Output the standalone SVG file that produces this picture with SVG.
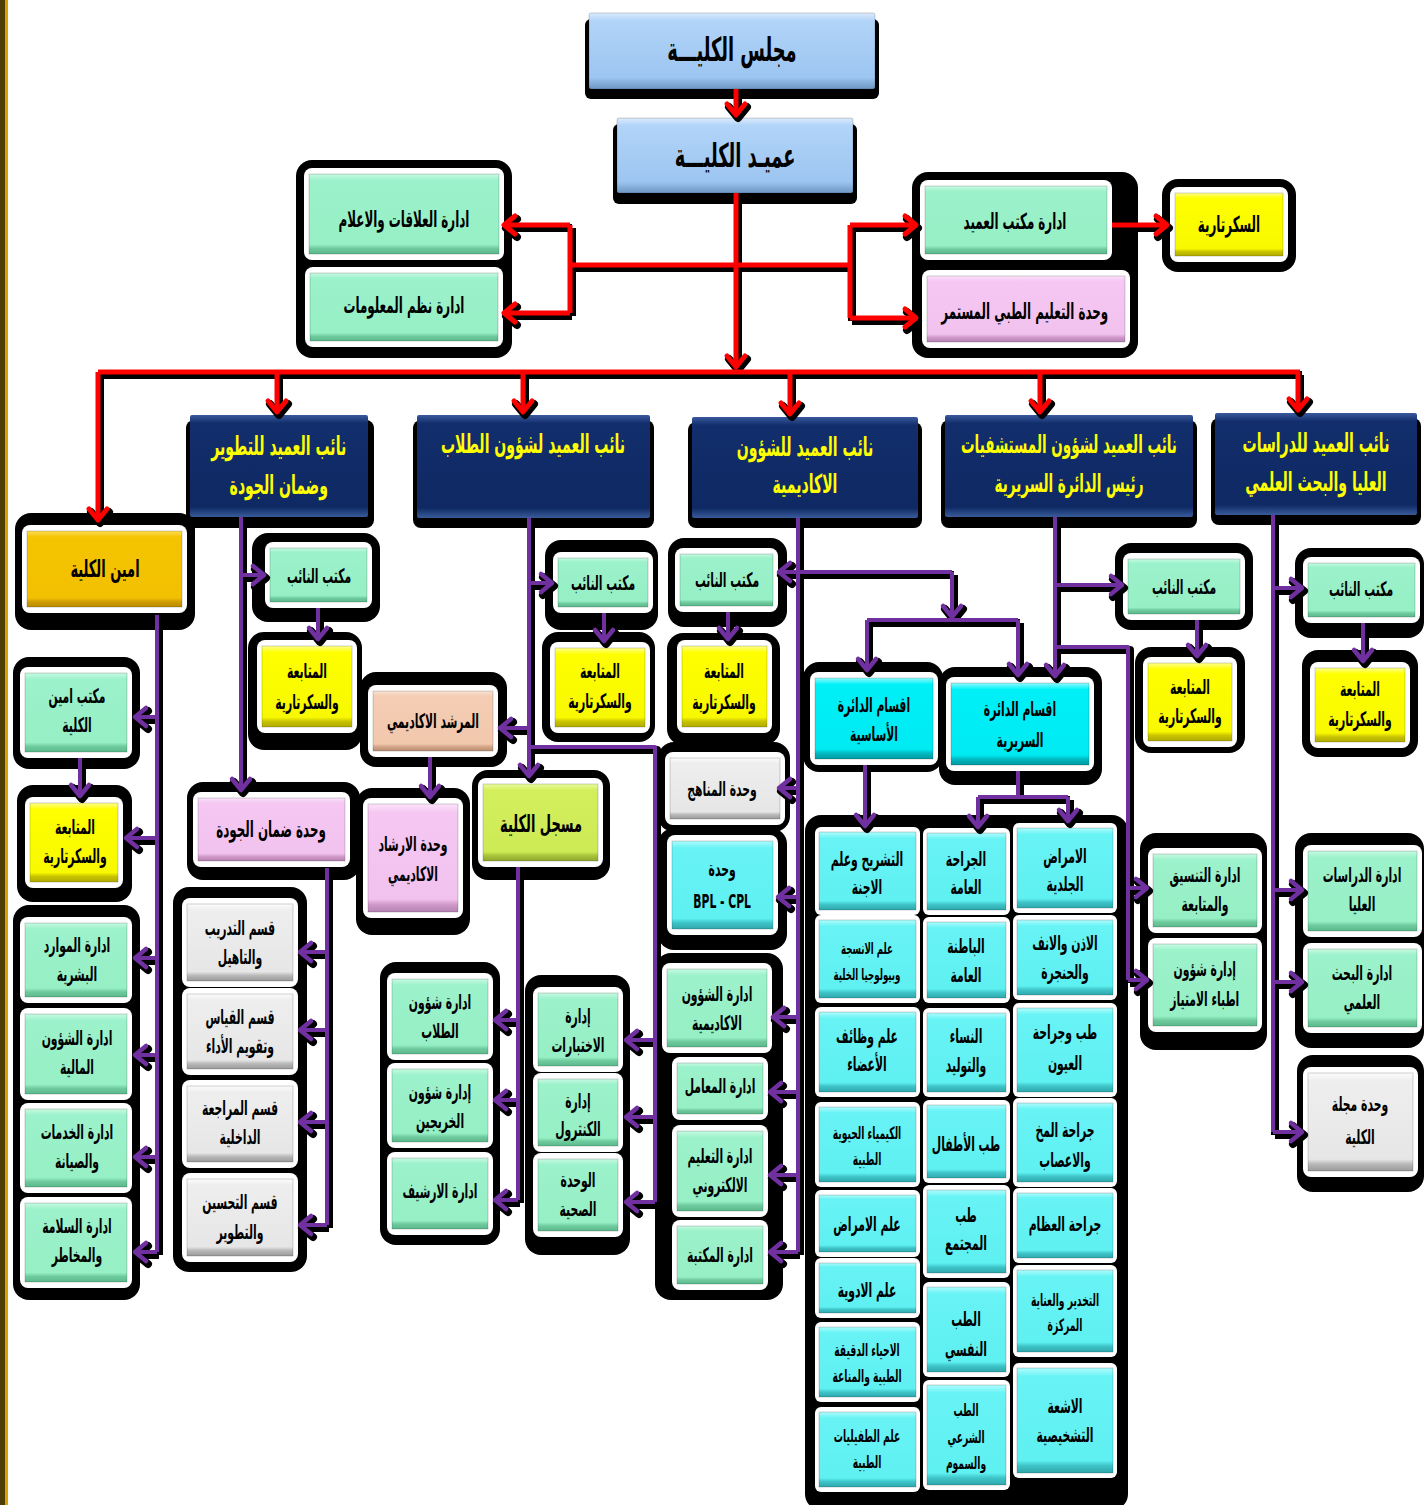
<svg xmlns="http://www.w3.org/2000/svg" xmlns:xlink="http://www.w3.org/1999/xlink" width="1424" height="1505" viewBox="0 0 1424 1505">
<style>
.sh{fill:#000}
.f{fill:#fff}
.i{stroke:rgba(0,0,0,.18);stroke-width:1}
text{font-family:'DejaVu Sans Condensed','DejaVu Sans',sans-serif;font-weight:bold;text-anchor:middle;fill:#000;transform-box:fill-box;transform-origin:center;transform:scaleX(.6)}
.t{font-size:20px}
.tm{font-size:22px}
.ts{font-size:16px}
.tx{font-size:17px}
.tl{font-size:33px}
.tn{font-size:26px;fill:#FFFF00}
.tb{font-size:24px}
</style>
<defs>
<linearGradient id="gBlue" x1="0" y1="0" x2="0" y2="1"><stop offset="0" stop-color="#DCEBFC"/><stop offset=".1" stop-color="#B2D4F8"/><stop offset=".85" stop-color="#9CC5F1"/><stop offset=".93" stop-color="#82ACD8"/><stop offset="1" stop-color="#6E98C4"/></linearGradient>
<linearGradient id="gNavy" x1="0" y1="0" x2="0" y2="1"><stop offset="0" stop-color="#3A5A9E"/><stop offset=".08" stop-color="#122E6C"/><stop offset=".9" stop-color="#0E2963"/><stop offset=".95" stop-color="#23427F"/><stop offset="1" stop-color="#3A5A9A"/></linearGradient>
<linearGradient id="gGreen" x1="0" y1="0" x2="0" y2="1"><stop offset="0" stop-color="#C8FAE3"/><stop offset=".08" stop-color="#9CF2CB"/><stop offset=".88" stop-color="#96EFC5"/><stop offset=".93" stop-color="#6FCB9E"/><stop offset="1" stop-color="#5AB88B"/></linearGradient>
<linearGradient id="gYellow" x1="0" y1="0" x2="0" y2="1"><stop offset="0" stop-color="#FFFF90"/><stop offset=".08" stop-color="#FFFF00"/><stop offset=".88" stop-color="#F8F800"/><stop offset=".93" stop-color="#C9C400"/><stop offset="1" stop-color="#B0AA00"/></linearGradient>
<linearGradient id="gCyan" x1="0" y1="0" x2="0" y2="1"><stop offset="0" stop-color="#B0FCFC"/><stop offset=".08" stop-color="#68F3F5"/><stop offset=".88" stop-color="#5FF0F2"/><stop offset=".93" stop-color="#3EC4C8"/><stop offset="1" stop-color="#2FA8AC"/></linearGradient>
<linearGradient id="gCyan2" x1="0" y1="0" x2="0" y2="1"><stop offset="0" stop-color="#90FBFF"/><stop offset=".08" stop-color="#00F0F8"/><stop offset=".88" stop-color="#00EAF2"/><stop offset=".93" stop-color="#00B8C0"/><stop offset="1" stop-color="#009AA0"/></linearGradient>
<linearGradient id="gGray" x1="0" y1="0" x2="0" y2="1"><stop offset="0" stop-color="#FCFCFC"/><stop offset=".08" stop-color="#EEEEEE"/><stop offset=".88" stop-color="#E6E6E6"/><stop offset=".93" stop-color="#B8B8B8"/><stop offset="1" stop-color="#9A9A9A"/></linearGradient>
<linearGradient id="gPink" x1="0" y1="0" x2="0" y2="1"><stop offset="0" stop-color="#FCE3FA"/><stop offset=".08" stop-color="#F5C7F2"/><stop offset=".88" stop-color="#F2C2EE"/><stop offset=".93" stop-color="#D09ACB"/><stop offset="1" stop-color="#B582B0"/></linearGradient>
<linearGradient id="gPeach" x1="0" y1="0" x2="0" y2="1"><stop offset="0" stop-color="#FBE5D6"/><stop offset=".08" stop-color="#F4CDB4"/><stop offset=".88" stop-color="#F2C8AD"/><stop offset=".93" stop-color="#D2A587"/><stop offset="1" stop-color="#B98E72"/></linearGradient>
<linearGradient id="gGold" x1="0" y1="0" x2="0" y2="1"><stop offset="0" stop-color="#FFDD55"/><stop offset=".08" stop-color="#F5C400"/><stop offset=".88" stop-color="#F2C000"/><stop offset=".93" stop-color="#D09E00"/><stop offset="1" stop-color="#B98A00"/></linearGradient>
<linearGradient id="gLime" x1="0" y1="0" x2="0" y2="1"><stop offset="0" stop-color="#EAFBA0"/><stop offset=".08" stop-color="#D4EF5C"/><stop offset=".88" stop-color="#CDEA55"/><stop offset=".93" stop-color="#A8C43A"/><stop offset="1" stop-color="#90A82E"/></linearGradient>
<marker id="mr" markerUnits="userSpaceOnUse" markerWidth="30" markerHeight="30" refX="13" refY="12" orient="auto" overflow="visible"><path d="M2,3 L13,12 L2,21" fill="none" stroke="#FF0000" stroke-width="5" stroke-linecap="round" stroke-linejoin="round"/></marker>
<marker id="mp" markerUnits="userSpaceOnUse" markerWidth="30" markerHeight="30" refX="13" refY="12" orient="auto" overflow="visible"><path d="M2,3 L13,12 L2,21" fill="none" stroke="#7030A0" stroke-width="4.5" stroke-linecap="round" stroke-linejoin="round"/></marker>
<marker id="mk" markerUnits="userSpaceOnUse" markerWidth="30" markerHeight="30" refX="13" refY="12" orient="auto" overflow="visible"><path d="M2,3 L13,12 L2,21" fill="none" stroke="#000" stroke-width="8" stroke-linecap="round" stroke-linejoin="round"/></marker>
</defs>

<rect x="0" y="0" width="1424" height="1505" fill="#fff"/>
<rect x="0" y="0" width="5" height="1505" fill="#4F3E08"/>
<rect x="5" y="0" width="3" height="1505" fill="#D9A300"/>

<g id="shadows">
<rect class="sh" x="585" y="19" width="294" height="80" rx="6"/>
<rect class="sh" x="613" y="124" width="244" height="80" rx="6"/>
<rect class="sh" x="296" y="160" width="216" height="198" rx="16"/>
<rect class="sh" x="912" y="172" width="226" height="186" rx="16"/>
<rect class="sh" x="1162" y="179" width="134" height="93" rx="16"/>
<rect class="sh" x="186" y="420" width="188" height="108" rx="8"/>
<rect class="sh" x="413" y="420" width="241" height="108" rx="8"/>
<rect class="sh" x="688" y="422" width="234" height="106" rx="8"/>
<rect class="sh" x="941" y="420" width="256" height="108" rx="8"/>
<rect class="sh" x="1211" y="418" width="210" height="107" rx="8"/>
<rect class="sh" x="15" y="513" width="180" height="117" rx="16"/>
<rect class="sh" x="13" y="657" width="127" height="112" rx="16"/>
<rect class="sh" x="17" y="785" width="115" height="117" rx="16"/>
<rect class="sh" x="13" y="905" width="127" height="395" rx="16"/>
<rect class="sh" x="252" y="533" width="128" height="89" rx="16"/>
<rect class="sh" x="248" y="632" width="114" height="118" rx="16"/>
<rect class="sh" x="187" y="782" width="173" height="98" rx="16"/>
<rect class="sh" x="173" y="887" width="134" height="385" rx="16"/>
<rect class="sh" x="545" y="540" width="113" height="90" rx="16"/>
<rect class="sh" x="542" y="632" width="113" height="110" rx="16"/>
<rect class="sh" x="360" y="672" width="147" height="95" rx="16"/>
<rect class="sh" x="356" y="788" width="114" height="147" rx="16"/>
<rect class="sh" x="472" y="770" width="138" height="110" rx="16"/>
<rect class="sh" x="380" y="962" width="120" height="283" rx="16"/>
<rect class="sh" x="525" y="975" width="105" height="280" rx="16"/>
<rect class="sh" x="668" y="538" width="119" height="89" rx="16"/>
<rect class="sh" x="667" y="633" width="113" height="112" rx="16"/>
<rect class="sh" x="658" y="742" width="132" height="90" rx="16"/>
<rect class="sh" x="658" y="828" width="129" height="122" rx="16"/>
<rect class="sh" x="655" y="953" width="128" height="347" rx="16"/>
<rect class="sh" x="803" y="662" width="140" height="110" rx="16"/>
<rect class="sh" x="939" y="667" width="163" height="118" rx="16"/>
<rect class="sh" x="1115" y="543" width="138" height="87" rx="16"/>
<rect class="sh" x="1135" y="647" width="110" height="106" rx="16"/>
<rect class="sh" x="1140" y="833" width="127" height="217" rx="16"/>
<rect class="sh" x="1295" y="548" width="129" height="90" rx="16"/>
<rect class="sh" x="1302" y="650" width="116" height="107" rx="16"/>
<rect class="sh" x="1295" y="833" width="129" height="215" rx="16"/>
<rect class="sh" x="1297" y="1055" width="127" height="137" rx="16"/>
<rect class="sh" x="805" y="815" width="323" height="695" rx="16"/>
</g>

<g id="n-council"><rect x="589" y="13" width="286" height="76" rx="2" fill="url(#gBlue)" class="i"/><text class="tl" x="732" y="61">مجلس الكليـــة</text></g>
<g id="n-dean"><rect x="617" y="118" width="236" height="75" rx="2" fill="url(#gBlue)" class="i"/><text class="tl" x="735" y="167">عميـد الكليـــة</text></g>

<g id="n-relations"><rect class="f" x="304" y="168" width="200" height="92" rx="8"/><rect class="i" x="309" y="174" width="190" height="80" fill="url(#gGreen)"/><text class="tm" x="404" y="227">ادارة العلاقات والاعلام</text></g>
<g id="n-infosys"><rect class="f" x="305" y="267" width="198" height="80" rx="8"/><rect class="i" x="310" y="273" width="188" height="68" fill="url(#gGreen)"/><text class="tm" x="404" y="313">ادارة نظم المعلومات</text></g>
<g id="n-deanoffice"><rect class="f" x="920" y="180" width="192" height="80" rx="8"/><rect class="i" x="925" y="186" width="182" height="68" fill="url(#gGreen)"/><text class="tm" x="1015" y="229">ادارة مكتب العميد</text></g>
<g id="n-cme"><rect class="f" x="922" y="270" width="208" height="78" rx="8"/><rect class="i" x="927" y="276" width="198" height="66" fill="url(#gPink)"/><text class="tm" x="1025" y="319">وحدة التعليم  الطبي المستمر</text></g>
<g id="n-secretary"><rect class="f" x="1170" y="187" width="118" height="75" rx="8"/><rect class="i" x="1175" y="193" width="108" height="63" fill="url(#gYellow)"/><text class="tm" x="1229" y="232">السكرتارية</text></g>

<g id="n-vp-dev"><rect x="190" y="415" width="178" height="102" rx="2" fill="url(#gNavy)"/><text class="tn" x="279"><tspan x="279" y="455">نائب العميد للتطوير</tspan><tspan x="279" y="494">وضمان الجودة</tspan></text></g>
<g id="n-vp-students"><rect x="417" y="415" width="233" height="103" rx="2" fill="url(#gNavy)"/><text class="tn" x="533" y="453">نائب العميد لشؤون الطلاب</text></g>
<g id="n-vp-academic"><rect x="692" y="417" width="226" height="101" rx="2" fill="url(#gNavy)"/><text class="tn" x="805"><tspan x="805" y="456">نائب العميد للشؤون</tspan><tspan x="805" y="493">الاكاديمية</tspan></text></g>
<g id="n-vp-hospitals"><rect x="945" y="415" width="248" height="102" rx="2" fill="url(#gNavy)"/><text class="tn" x="1069" style="font-size:25px"><tspan x="1069" y="453">نائب العميد لشؤون المستشفيات</tspan><tspan x="1069" y="492">رئيس الدائرة السريرية</tspan></text></g>
<g id="n-vp-postgrad"><rect x="1215" y="413" width="202" height="102" rx="2" fill="url(#gNavy)"/><text class="tn" x="1316"><tspan x="1316" y="452">نائب العميد للدراسات</tspan><tspan x="1316" y="491">العليا  والبحث العلمي</tspan></text></g>

<g id="n-amin"><rect class="f" x="22" y="525" width="165" height="88" rx="8"/><rect class="i" x="27" y="531" width="155" height="76" fill="url(#gGold)"/><text class="tb" x="105" y="577">امين الكلية</text></g>
<g id="n-amin-office"><rect class="f" x="20" y="667" width="112" height="91" rx="8"/><rect class="i" x="25" y="673" width="102" height="79" fill="url(#gGreen)"/><text class="t" x="77"><tspan x="77" y="703">مكتب امين</tspan><tspan x="77" y="732">الكلية</tspan></text></g>
<g id="n-amin-follow"><rect class="f" x="25" y="797" width="98" height="91" rx="8"/><rect class="i" x="30" y="803" width="88" height="79" fill="url(#gYellow)"/><text class="t" x="75"><tspan x="75" y="834">المتابعة</tspan><tspan x="75" y="863">والسكرتارية</tspan></text></g>
<g id="n-hr"><rect class="f" x="20" y="917" width="112" height="86" rx="8"/><rect class="i" x="25" y="923" width="102" height="74" fill="url(#gGreen)"/><text class="t" x="77"><tspan x="77" y="952">ادارة الموارد</tspan><tspan x="77" y="981">البشرية</tspan></text></g>
<g id="n-finance"><rect class="f" x="20" y="1008" width="112" height="92" rx="8"/><rect class="i" x="25" y="1014" width="102" height="80" fill="url(#gGreen)"/><text class="t" x="77"><tspan x="77" y="1045">ادارة الشؤون</tspan><tspan x="77" y="1074">المالية</tspan></text></g>
<g id="n-services"><rect class="f" x="20" y="1103" width="112" height="90" rx="8"/><rect class="i" x="25" y="1109" width="102" height="78" fill="url(#gGreen)"/><text class="t" x="77"><tspan x="77" y="1139">ادارة الخدمات</tspan><tspan x="77" y="1168">والصيانة</tspan></text></g>
<g id="n-safety"><rect class="f" x="20" y="1197" width="112" height="91" rx="8"/><rect class="i" x="25" y="1203" width="102" height="79" fill="url(#gGreen)"/><text class="t" x="77"><tspan x="77" y="1233">ادارة السلامة</tspan><tspan x="77" y="1262">والمخاطر</tspan></text></g>

<g id="n-dev-office"><rect class="f" x="265" y="542" width="107" height="66" rx="8"/><rect class="i" x="270" y="548" width="97" height="54" fill="url(#gGreen)"/><text class="t" x="319" y="583">مكتب النائب</text></g>
<g id="n-dev-follow"><rect class="f" x="257" y="640" width="100" height="93" rx="8"/><rect class="i" x="262" y="646" width="90" height="81" fill="url(#gYellow)"/><text class="t" x="307"><tspan x="307" y="678">المتابعة</tspan><tspan x="307" y="709">والسكرتارية</tspan></text></g>
<g id="n-quality"><rect class="f" x="193" y="792" width="157" height="75" rx="8"/><rect class="i" x="198" y="798" width="147" height="63" fill="url(#gPink)"/><text class="tm" x="271" y="837">وحدة ضمان الجودة</text></g>
<g id="n-training"><rect class="f" x="182" y="898" width="116" height="89" rx="8"/><rect class="i" x="187" y="904" width="106" height="77" fill="url(#gGray)"/><text class="t" x="240"><tspan x="240" y="935">قسم التدريب</tspan><tspan x="240" y="964">والتاهيل</tspan></text></g>
<g id="n-measure"><rect class="f" x="182" y="988" width="116" height="87" rx="8"/><rect class="i" x="187" y="994" width="106" height="75" fill="url(#gGray)"/><text class="t" x="240"><tspan x="240" y="1024">قسم القياس</tspan><tspan x="240" y="1053">وتقويم الأداء</tspan></text></g>
<g id="n-audit"><rect class="f" x="182" y="1080" width="116" height="88" rx="8"/><rect class="i" x="187" y="1086" width="106" height="76" fill="url(#gGray)"/><text class="t" x="240"><tspan x="240" y="1115">قسم المراجعة</tspan><tspan x="240" y="1144">الداخلية</tspan></text></g>
<g id="n-improve"><rect class="f" x="182" y="1173" width="116" height="89" rx="8"/><rect class="i" x="187" y="1179" width="106" height="77" fill="url(#gGray)"/><text class="t" x="240"><tspan x="240" y="1209">قسم التحسين</tspan><tspan x="240" y="1239">والتطوير</tspan></text></g>

<g id="n-stu-office"><rect class="f" x="553" y="552" width="100" height="61" rx="8"/><rect class="i" x="558" y="558" width="90" height="49" fill="url(#gGreen)"/><text class="t" x="603" y="590">مكتب النائب</text></g>
<g id="n-stu-follow"><rect class="f" x="550" y="642" width="100" height="91" rx="8"/><rect class="i" x="555" y="648" width="90" height="79" fill="url(#gYellow)"/><text class="t" x="600"><tspan x="600" y="678">المتابعة</tspan><tspan x="600" y="708">والسكرتارية</tspan></text></g>
<g id="n-advisor"><rect class="f" x="368" y="685" width="130" height="72" rx="8"/><rect class="i" x="373" y="691" width="120" height="60" fill="url(#gPeach)"/><text class="t" x="433" y="728">المرشد الاكاديمي</text></g>
<g id="n-advising-unit"><rect class="f" x="363" y="798" width="100" height="120" rx="8"/><rect class="i" x="368" y="804" width="90" height="108" fill="url(#gPink)"/><text class="t" x="413"><tspan x="413" y="851">وحدة الارشاد</tspan><tspan x="413" y="881">الاكاديمي</tspan></text></g>
<g id="n-registrar"><rect class="f" x="478" y="778" width="125" height="89" rx="8"/><rect class="i" x="483" y="784" width="115" height="77" fill="url(#gLime)"/><text class="tb" x="541" y="832">مسجل الكلية</text></g>
<g id="n-stu-affairs"><rect class="f" x="387" y="973" width="106" height="87" rx="8"/><rect class="i" x="392" y="979" width="96" height="75" fill="url(#gGreen)"/><text class="t" x="440"><tspan x="440" y="1009">ادارة شؤون</tspan><tspan x="440" y="1038">الطلاب</tspan></text></g>
<g id="n-alumni"><rect class="f" x="387" y="1063" width="106" height="85" rx="8"/><rect class="i" x="392" y="1069" width="96" height="73" fill="url(#gGreen)"/><text class="t" x="440"><tspan x="440" y="1099">إدارة شؤون</tspan><tspan x="440" y="1128">الخريجين</tspan></text></g>
<g id="n-archive"><rect class="f" x="387" y="1152" width="106" height="83" rx="8"/><rect class="i" x="392" y="1158" width="96" height="71" fill="url(#gGreen)"/><text class="t" x="440" y="1198">ادارة الارشيف</text></g>
<g id="n-exams"><rect class="f" x="533" y="987" width="90" height="85" rx="8"/><rect class="i" x="538" y="993" width="80" height="73" fill="url(#gGreen)"/><text class="t" x="578"><tspan x="578" y="1023">إدارة</tspan><tspan x="578" y="1052">الاختبارات</tspan></text></g>
<g id="n-control"><rect class="f" x="533" y="1073" width="90" height="79" rx="8"/><rect class="i" x="538" y="1079" width="80" height="67" fill="url(#gGreen)"/><text class="t" x="578"><tspan x="578" y="1108">إدارة</tspan><tspan x="578" y="1136">الكنترول</tspan></text></g>
<g id="n-health"><rect class="f" x="533" y="1153" width="90" height="84" rx="8"/><rect class="i" x="538" y="1159" width="80" height="72" fill="url(#gGreen)"/><text class="t" x="578"><tspan x="578" y="1187">الوحدة</tspan><tspan x="578" y="1216">الصحية</tspan></text></g>

<g id="n-acad-office"><rect class="f" x="675" y="548" width="103" height="64" rx="8"/><rect class="i" x="680" y="554" width="93" height="52" fill="url(#gGreen)"/><text class="t" x="727" y="587">مكتب النائب</text></g>
<g id="n-acad-follow"><rect class="f" x="677" y="640" width="95" height="93" rx="8"/><rect class="i" x="682" y="646" width="85" height="81" fill="url(#gYellow)"/><text class="t" x="724"><tspan x="724" y="678">المتابعة</tspan><tspan x="724" y="709">والسكرتارية</tspan></text></g>
<g id="n-curricula"><rect class="f" x="665" y="752" width="120" height="73" rx="8"/><rect class="i" x="670" y="758" width="110" height="61" fill="url(#gGray)"/><text class="t" x="722" y="796">وحدة المناهج</text></g>
<g id="n-bpl"><rect class="f" x="667" y="835" width="111" height="100" rx="8"/><rect class="i" x="672" y="841" width="101" height="88" fill="url(#gCyan)"/><text class="t" x="722"><tspan x="722" y="876">وحدة</tspan><tspan x="722" y="908">BPL - CPL</tspan></text></g>
<g id="n-acad-affairs"><rect class="f" x="662" y="963" width="110" height="90" rx="8"/><rect class="i" x="667" y="969" width="100" height="78" fill="url(#gGreen)"/><text class="t" x="717"><tspan x="717" y="1001">ادارة الشؤون</tspan><tspan x="717" y="1030">الاكاديمية</tspan></text></g>
<g id="n-labs"><rect class="f" x="672" y="1057" width="96" height="63" rx="8"/><rect class="i" x="677" y="1063" width="86" height="51" fill="url(#gGreen)"/><text class="t" x="720" y="1093">ادارة المعامل</text></g>
<g id="n-elearning"><rect class="f" x="672" y="1125" width="96" height="92" rx="8"/><rect class="i" x="677" y="1131" width="86" height="80" fill="url(#gGreen)"/><text class="t" x="720"><tspan x="720" y="1163">ادارة التعليم</tspan><tspan x="720" y="1192">الالكتروني</tspan></text></g>
<g id="n-library"><rect class="f" x="672" y="1220" width="96" height="70" rx="8"/><rect class="i" x="677" y="1226" width="86" height="58" fill="url(#gGreen)"/><text class="t" x="720" y="1262">ادارة المكتبة</text></g>

<g id="n-basic"><rect class="f" x="810" y="672" width="128" height="93" rx="8"/><rect class="i" x="815" y="678" width="118" height="81" fill="url(#gCyan2)"/><text class="t" x="874"><tspan x="874" y="712">اقسام الدائرة</tspan><tspan x="874" y="741">الأساسية</tspan></text></g>
<g id="n-clinical"><rect class="f" x="946" y="677" width="148" height="94" rx="8"/><rect class="i" x="951" y="683" width="138" height="82" fill="url(#gCyan2)"/><text class="t" x="1020"><tspan x="1020" y="716">اقسام الدائرة</tspan><tspan x="1020" y="747">السريرية</tspan></text></g>

<g id="n-hosp-office"><rect class="f" x="1123" y="553" width="122" height="67" rx="8"/><rect class="i" x="1128" y="559" width="112" height="55" fill="url(#gGreen)"/><text class="t" x="1184" y="594">مكتب النائب</text></g>
<g id="n-hosp-follow"><rect class="f" x="1143" y="657" width="94" height="90" rx="8"/><rect class="i" x="1148" y="663" width="84" height="78" fill="url(#gYellow)"/><text class="t" x="1190"><tspan x="1190" y="694">المتابعة</tspan><tspan x="1190" y="723">والسكرتارية</tspan></text></g>
<g id="n-coord"><rect class="f" x="1148" y="848" width="114" height="85" rx="8"/><rect class="i" x="1153" y="854" width="104" height="73" fill="url(#gGreen)"/><text class="t" x="1205"><tspan x="1205" y="882">ادارة التنسيق</tspan><tspan x="1205" y="911">والمتابعة</tspan></text></g>
<g id="n-interns"><rect class="f" x="1148" y="938" width="114" height="94" rx="8"/><rect class="i" x="1153" y="944" width="104" height="82" fill="url(#gGreen)"/><text class="t" x="1205"><tspan x="1205" y="976">إدارة شؤون</tspan><tspan x="1205" y="1006">اطباء الامتياز</tspan></text></g>

<g id="n-pg-office"><rect class="f" x="1303" y="557" width="117" height="66" rx="8"/><rect class="i" x="1308" y="563" width="107" height="54" fill="url(#gGreen)"/><text class="t" x="1361" y="596">مكتب النائب</text></g>
<g id="n-pg-follow"><rect class="f" x="1310" y="662" width="100" height="86" rx="8"/><rect class="i" x="1315" y="668" width="90" height="74" fill="url(#gYellow)"/><text class="t" x="1360"><tspan x="1360" y="696">المتابعة</tspan><tspan x="1360" y="726">والسكرتارية</tspan></text></g>
<g id="n-pg-studies"><rect class="f" x="1303" y="845" width="119" height="92" rx="8"/><rect class="i" x="1308" y="851" width="109" height="80" fill="url(#gGreen)"/><text class="t" x="1362"><tspan x="1362" y="882">ادارة الدراسات</tspan><tspan x="1362" y="911">العليا</tspan></text></g>
<g id="n-research"><rect class="f" x="1303" y="943" width="119" height="90" rx="8"/><rect class="i" x="1308" y="949" width="109" height="78" fill="url(#gGreen)"/><text class="t" x="1362"><tspan x="1362" y="980">ادارة البحث</tspan><tspan x="1362" y="1009">العلمي</tspan></text></g>
<g id="n-journal"><rect class="f" x="1303" y="1067" width="115" height="110" rx="8"/><rect class="i" x="1308" y="1073" width="105" height="98" fill="url(#gGray)"/><text class="t" x="1360"><tspan x="1360" y="1111">وحدة مجلة</tspan><tspan x="1360" y="1144">الكلية</tspan></text></g>

<g id="n-anatomy"><rect class="f" x="815" y="827" width="105" height="88" rx="6"/><rect class="i" x="819" y="832" width="97" height="78" fill="url(#gCyan)"/><text class="t" x="867"><tspan x="867" y="866">التشريح وعلم</tspan><tspan x="867" y="894">الاجنة</tspan></text></g>
<g id="n-histology"><rect class="f" x="815" y="915" width="105" height="88" rx="6"/><rect class="i" x="819" y="920" width="97" height="78" fill="url(#gCyan)"/><text class="ts" x="867"><tspan x="867" y="954">علم الانسجة</tspan><tspan x="867" y="980">وبيولوجيا الخلية</tspan></text></g>
<g id="n-physiology"><rect class="f" x="815" y="1007" width="105" height="90" rx="6"/><rect class="i" x="819" y="1012" width="97" height="80" fill="url(#gCyan)"/><text class="t" x="867"><tspan x="867" y="1043">علم وظائف</tspan><tspan x="867" y="1071">الأعضاء</tspan></text></g>
<g id="n-biochem"><rect class="f" x="815" y="1102" width="105" height="85" rx="6"/><rect class="i" x="819" y="1107" width="97" height="75" fill="url(#gCyan)"/><text class="tx" x="867"><tspan x="867" y="1139">الكيمياء الحيوية</tspan><tspan x="867" y="1165">الطبية</tspan></text></g>
<g id="n-pathology"><rect class="f" x="815" y="1190" width="105" height="67" rx="6"/><rect class="i" x="819" y="1195" width="97" height="57" fill="url(#gCyan)"/><text class="t" x="867" y="1231">علم الامراض</text></g>
<g id="n-pharma"><rect class="f" x="815" y="1258" width="105" height="60" rx="6"/><rect class="i" x="819" y="1263" width="97" height="50" fill="url(#gCyan)"/><text class="t" x="867" y="1297">علم الادوية</text></g>
<g id="n-micro"><rect class="f" x="815" y="1322" width="105" height="80" rx="6"/><rect class="i" x="819" y="1327" width="97" height="70" fill="url(#gCyan)"/><text class="tx" x="867"><tspan x="867" y="1356">الاحياء الدقيقة</tspan><tspan x="867" y="1382">الطبية والمناعة</tspan></text></g>
<g id="n-parasit"><rect class="f" x="815" y="1407" width="105" height="85" rx="6"/><rect class="i" x="819" y="1412" width="97" height="75" fill="url(#gCyan)"/><text class="tx" x="867"><tspan x="867" y="1442">علم الطفيليات</tspan><tspan x="867" y="1468">الطبية</tspan></text></g>

<g id="n-gensurg"><rect class="f" x="923" y="828" width="87" height="87" rx="6"/><rect class="i" x="927" y="833" width="79" height="77" fill="url(#gCyan)"/><text class="t" x="966"><tspan x="966" y="866">الجراحة</tspan><tspan x="966" y="894">العامة</tspan></text></g>
<g id="n-internal"><rect class="f" x="923" y="917" width="87" height="86" rx="6"/><rect class="i" x="927" y="922" width="79" height="76" fill="url(#gCyan)"/><text class="t" x="966"><tspan x="966" y="953">الباطنة</tspan><tspan x="966" y="982">العامة</tspan></text></g>
<g id="n-obgyn"><rect class="f" x="923" y="1008" width="87" height="89" rx="6"/><rect class="i" x="927" y="1013" width="79" height="79" fill="url(#gCyan)"/><text class="t" x="966"><tspan x="966" y="1043">النساء</tspan><tspan x="966" y="1072">والتوليد</tspan></text></g>
<g id="n-peds"><rect class="f" x="923" y="1100" width="87" height="83" rx="6"/><rect class="i" x="927" y="1105" width="79" height="73" fill="url(#gCyan)"/><text class="t" x="966" y="1151">طب الأطفال</text></g>
<g id="n-community"><rect class="f" x="923" y="1185" width="87" height="93" rx="6"/><rect class="i" x="927" y="1190" width="79" height="83" fill="url(#gCyan)"/><text class="t" x="966"><tspan x="966" y="1222">طب</tspan><tspan x="966" y="1250">المجتمع</tspan></text></g>
<g id="n-psych"><rect class="f" x="923" y="1282" width="87" height="95" rx="6"/><rect class="i" x="927" y="1287" width="79" height="85" fill="url(#gCyan)"/><text class="t" x="966"><tspan x="966" y="1326">الطب</tspan><tspan x="966" y="1356">النفسي</tspan></text></g>
<g id="n-forensic"><rect class="f" x="923" y="1380" width="87" height="110" rx="6"/><rect class="i" x="927" y="1385" width="79" height="100" fill="url(#gCyan)"/><text class="tx" x="966"><tspan x="966" y="1416">الطب</tspan><tspan x="966" y="1443">الشرعي</tspan><tspan x="966" y="1469">والسموم</tspan></text></g>

<g id="n-derma"><rect class="f" x="1013" y="823" width="104" height="90" rx="6"/><rect class="i" x="1017" y="828" width="96" height="80" fill="url(#gCyan)"/><text class="t" x="1065"><tspan x="1065" y="863">الامراض</tspan><tspan x="1065" y="891">الجلدية</tspan></text></g>
<g id="n-ent"><rect class="f" x="1013" y="915" width="104" height="85" rx="6"/><rect class="i" x="1017" y="920" width="96" height="75" fill="url(#gCyan)"/><text class="t" x="1065"><tspan x="1065" y="950">الاذن والانف</tspan><tspan x="1065" y="979">والحنجرة</tspan></text></g>
<g id="n-eye"><rect class="f" x="1013" y="1003" width="104" height="94" rx="6"/><rect class="i" x="1017" y="1008" width="96" height="84" fill="url(#gCyan)"/><text class="t" x="1065"><tspan x="1065" y="1039">طب وجراحة</tspan><tspan x="1065" y="1070">العيون</tspan></text></g>
<g id="n-neuro"><rect class="f" x="1013" y="1098" width="104" height="89" rx="6"/><rect class="i" x="1017" y="1103" width="96" height="79" fill="url(#gCyan)"/><text class="t" x="1065"><tspan x="1065" y="1137">جراحة المخ</tspan><tspan x="1065" y="1167">والاعصاب</tspan></text></g>
<g id="n-ortho"><rect class="f" x="1013" y="1188" width="104" height="75" rx="6"/><rect class="i" x="1017" y="1193" width="96" height="65" fill="url(#gCyan)"/><text class="t" x="1065" y="1231">جراحة العظام</text></g>
<g id="n-anesth"><rect class="f" x="1013" y="1265" width="104" height="92" rx="6"/><rect class="i" x="1017" y="1270" width="96" height="82" fill="url(#gCyan)"/><text class="tx" x="1065"><tspan x="1065" y="1306">التخدير والعناية</tspan><tspan x="1065" y="1331">المركزة</tspan></text></g>
<g id="n-radio"><rect class="f" x="1013" y="1363" width="104" height="115" rx="6"/><rect class="i" x="1017" y="1368" width="96" height="105" fill="url(#gCyan)"/><text class="t" x="1065"><tspan x="1065" y="1413">الاشعة</tspan><tspan x="1065" y="1442">التشخيصية</tspan></text></g>

<g id="connectors" fill="none" stroke-linejoin="round">
<g id="conn-shadow" transform="translate(2,3)">
<use href="#redLines" stroke="#000" stroke-width="8"/>
<use href="#redArrows" stroke="#000" stroke-width="8" marker-end="url(#mk)"/>
<use href="#purLines" stroke="#000" stroke-width="8"/>
<use href="#purArrows" stroke="#000" stroke-width="8" marker-end="url(#mk)"/>
</g>
<g stroke="#FF0000" stroke-width="5"><g id="redLines">
<path d="M570,265 H850"/><path d="M570,225 V313"/><path d="M850,225 V318"/><path d="M98,372 H1300"/>
</g></g>
<g stroke="#FF0000" stroke-width="5" marker-end="url(#mr)"><g id="redArrows">
<path d="M736,89 V115"/><path d="M736,193 V367"/>
<path d="M570,225 H504"/><path d="M570,313 H504"/><path d="M850,225 H916"/><path d="M850,318 H916"/><path d="M1112,225 H1167"/>
<path d="M98,372 V520"/><path d="M277,372 V412"/><path d="M523,372 V412"/><path d="M790,372 V414"/><path d="M1040,372 V412"/><path d="M1298,372 V410"/>
</g></g>
<g stroke="#7030A0" stroke-width="4"><g id="purLines">
<path d="M157,615 V1252"/><path d="M327,868 V1225"/><path d="M529,747 H655 V1202"/><path d="M518,867 V1200"/>
<path d="M798,518 V1252"/><path d="M798,572 H952"/><path d="M867,620 H1018"/><path d="M1018,771 V797"/><path d="M978,797 H1068"/>
<path d="M1055,647 H1128 V980"/><path d="M1273,515 V1132"/>
</g></g>
<g stroke="#7030A0" stroke-width="4" marker-end="url(#mp)"><g id="purArrows">
<path d="M157,717 H135"/><path d="M157,838 H126"/><path d="M157,958 H135"/><path d="M157,1055 H135"/><path d="M157,1157 H135"/><path d="M157,1252 H135"/><path d="M80,758 V796"/>
<path d="M241,517 V790"/><path d="M241,575 H264"/><path d="M318,608 V639"/><path d="M327,952 H300"/><path d="M327,1030 H300"/><path d="M327,1122 H300"/><path d="M327,1225 H300"/>
<path d="M529,518 V776"/><path d="M529,583 H552"/><path d="M604,613 V641"/><path d="M529,728 H500"/><path d="M655,1040 H626"/><path d="M655,1117 H626"/><path d="M655,1202 H626"/><path d="M430,757 V797"/><path d="M518,1020 H495"/><path d="M518,1100 H495"/><path d="M518,1200 H495"/>
<path d="M798,788 H779"/><path d="M798,897 H778"/><path d="M798,1017 H773"/><path d="M798,1092 H770"/><path d="M798,1175 H770"/><path d="M798,1252 H770"/>
<path d="M798,572 H779"/><path d="M952,572 V617"/><path d="M867,620 V670"/><path d="M1018,620 V675"/><path d="M728,612 V639"/><path d="M865,765 V826"/><path d="M978,797 V827"/><path d="M1068,797 V821"/>
<path d="M1055,517 V676"/><path d="M1055,585 H1122"/><path d="M1128,888 H1147"/><path d="M1128,980 H1147"/><path d="M1197,620 V656"/>
<path d="M1273,588 H1302"/><path d="M1273,890 H1302"/><path d="M1273,982 H1302"/><path d="M1273,1132 H1302"/><path d="M1363,623 V661"/>
</g></g>
</g>
</svg>
